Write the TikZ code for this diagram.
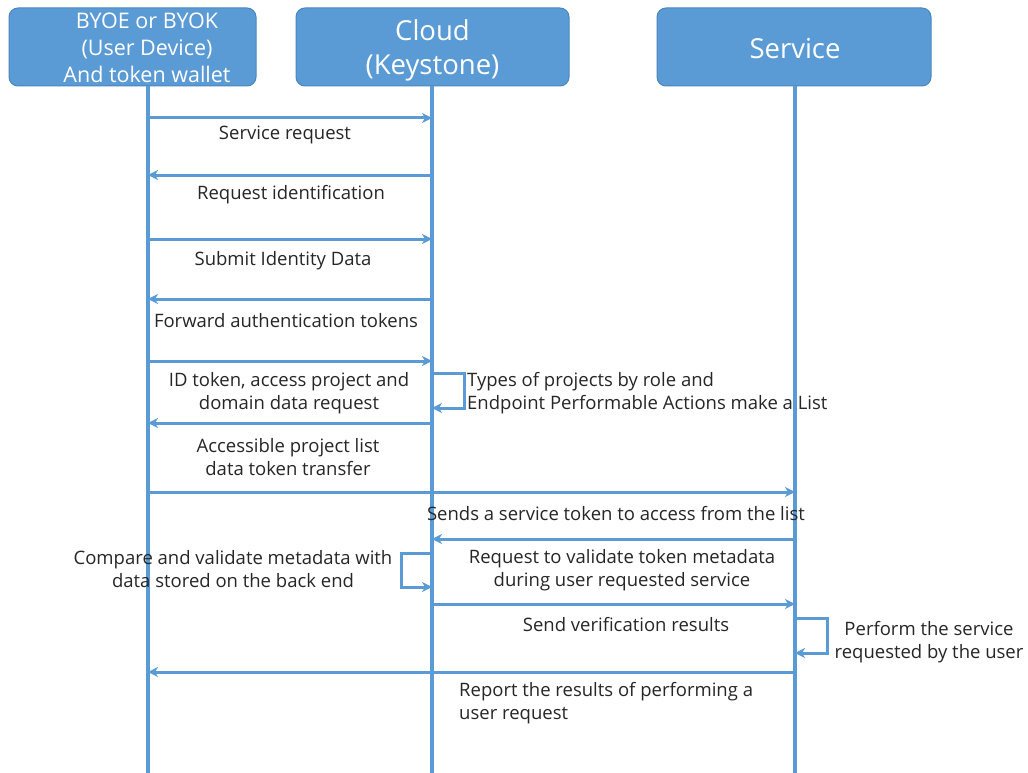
\documentclass[tikz,border=0pt]{standalone}
\usepackage{fontspec}
\setmainfont{Open Sans}
\usetikzlibrary{arrows.meta}
\definecolor{lineblue}{HTML}{5B9BD5}
\definecolor{boxedge}{HTML}{4A86BE}
\begin{document}
\begin{tikzpicture}[x=1pt,y=-1pt,
  actor/.style={draw=boxedge,line width=1pt,fill=lineblue,rounded corners=9pt,
    text=white,align=center,inner sep=0pt},
  actortext/.style={text=white,align=center,inner sep=0pt},
  life/.style={lineblue,line width=3.2pt},
  msg/.style={lineblue,line width=3pt,-{Stealth[length=10pt,width=10pt,inset=3pt]}},
  lbl/.style={align=center,inner sep=0pt,font=\fontsize{18.5}{23}\selectfont,text=black!85},
  lbll/.style={align=left,inner sep=0pt,font=\fontsize{18.5}{23}\selectfont,text=black!85}]
\useasboundingbox (0,0) rectangle (1028,773);

% participants
\node[actor,minimum width=247pt,minimum height=78pt] (dev) at (132.5,47) {};
\node[actortext,font=\fontsize{21.5}{27}\selectfont]
  (devText) at (147,48) {BYOE or BYOK\\(User Device)\\And token wallet};
\node[actor,minimum width=273pt,minimum height=78pt] (cloud) at (432.5,47) {};
\node[actortext,font=\fontsize{27.5}{34}\selectfont]
  (cloudText) at (432.5,50) {Cloud\\(Keystone)};
\node[actor,minimum width=274pt,minimum height=78pt] (svc) at (794,47) {};
\node[actortext,font=\fontsize{27.5}{34}\selectfont]
  (svcText) at (795,49) {Service};

% lifelines
\coordinate (devEnd) at (148,773);
\coordinate (cloudEnd) at (432,773);
\coordinate (svcEnd) at (795,773);
\draw[life] (148,86) -- (devEnd);
\draw[life] (432,86) -- (cloudEnd);
\draw[life] (795,86) -- (svcEnd);

% message anchor points on the lifelines
\foreach \n/\y in {1/118,2/175,3/239,4/299,5/361,7/423,8/492,9/539,11/604,13/672}{
  \coordinate (d\n) at (148,\y);
  \coordinate (c\n) at (432,\y);
  \coordinate (s\n) at (795,\y);
}
\coordinate (c6a) at (432,373); \coordinate (c6b) at (432,408);
\coordinate (c10a) at (432,553); \coordinate (c10b) at (432,587);
\coordinate (s12a) at (795,618); \coordinate (s12b) at (795,653);

% messages
\draw[msg] (d1) -- (c1);
\node[lbl] (m1) at (285,135) {Service request};
\draw[msg] (c2) -- (d2);
\node[lbl] (m2) at (291,195) {Request identification};
\draw[msg] (d3) -- (c3);
\node[lbl] (m3) at (283,261) {Submit Identity Data};
\draw[msg] (c4) -- (d4);
\node[lbl] (m4) at (286,321) {Forward authentication tokens};
\draw[msg] (d5) -- (c5);
\node[lbl] (m5) at (289,393) {ID token, access project and\\domain data request};
\draw[msg] (c6a) -- ++(32,0) |- (c6b);
\node[lbll,anchor=west] (m6) at (467,393) {Types of projects by role and\\Endpoint Performable Actions make a List};
\draw[msg] (c7) -- (d7);
\node[lbl] (m7) at (288,457) {Accessible project list\\data token transfer};
\draw[msg] (d8) -- (s8);
\node[lbl] (m8) at (616,514) {Sends a service token to access from the list};
\draw[msg] (s9) -- (c9);
\node[lbl] (m9) at (622,570) {Request to validate token metadata\\during user requested service};
\draw[msg] (c10a) -- ++(-31,0) |- (c10b);
\node[lbl] (m10) at (233,569) {Compare and validate metadata with\\data stored on the back end};
\draw[msg] (c11) -- (s11);
\node[lbl] (m11) at (626,625) {Send verification results};
\draw[msg] (s12a) -- ++(32,0) |- (s12b);
\node[lbl] (m12) at (929,642) {Perform the service\\requested by the user};
\draw[msg] (s13) -- (d13);
\node[lbll,anchor=west] (m13) at (459,703) {Report the results of performing a\\user request};
\end{tikzpicture}
\end{document}
